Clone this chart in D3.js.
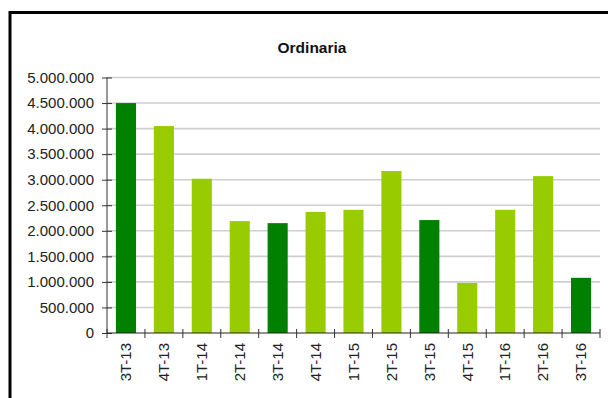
<!DOCTYPE html>
<html>
<head>
<meta charset="utf-8">
<script src="https://cdn.jsdelivr.net/npm/d3@7"></script>
<style>
  html, body { margin: 0; padding: 0; background: #fff; }
  svg { display: block; font-family: "Liberation Sans", Arial, sans-serif; }
</style>
</head>
<body>
<svg id="chart" width="608" height="398"></svg>
<script>
// Quarterly values
const categories = ["3T-13","4T-13","1T-14","2T-14","3T-14","4T-14","1T-15","2T-15","3T-15","4T-15","1T-16","2T-16","3T-16"];
const values = [4500000, 4050000, 3020000, 2190000, 2150000, 2370000, 2410000, 3170000, 2210000, 980000, 2410000, 3070000, 1080000];
const highlighted = ["3T-13","3T-14","3T-15","3T-16"];
const yTicks = [0, 500000, 1000000, 1500000, 2000000, 2500000, 3000000, 3500000, 4000000, 4500000, 5000000];
const title = "Ordinaria";

const svg = d3.select("#chart");
const plotLeft = 107, plotRight = 600, plotTop = 77.5, plotBottom = 333;

const fmt = d3.formatLocale({decimal: ",", thousands: ".", grouping: [3], currency: ["", "€"]}).format(",d");

const x = d3.scaleBand().domain(categories).range([plotLeft, plotRight]).paddingInner(0.47).paddingOuter(0.235);
const y = d3.scaleLinear().domain([0, 5000000]).range([plotBottom, plotTop]);

// Frame
svg.append("rect")
  .attr("x", 10).attr("y", 12.5).attr("width", 620).attr("height", 420)
  .attr("fill", "none").attr("stroke", "#000").attr("stroke-width", 3);

// Title
svg.append("text")
  .attr("x", 312).attr("y", 53)
  .attr("text-anchor", "middle")
  .attr("font-weight", "bold").attr("font-size", 15.5).attr("fill", "#111")
  .text(title);

// Gridlines
svg.append("g").selectAll("line").data(yTicks.filter(d => d > 0)).join("line")
  .attr("x1", plotLeft).attr("x2", plotRight)
  .attr("y1", d => y(d)).attr("y2", d => y(d))
  .attr("stroke", "#cfcfcf").attr("stroke-width", 1.6);

// Bars
svg.append("g").selectAll("rect").data(categories).join("rect")
  .attr("x", d => x(d))
  .attr("width", x.bandwidth())
  .attr("y", (d, i) => y(values[i]))
  .attr("height", (d, i) => y(0) - y(values[i]))
  .attr("fill", d => highlighted.includes(d) ? "#008000" : "#99cc00");

// Y axis
const yAxis = svg.append("g").attr("transform", `translate(${plotLeft},0)`)
  .call(d3.axisLeft(y).tickValues(yTicks).tickFormat(fmt).tickSize(5).tickPadding(8));
yAxis.select(".domain").attr("stroke", "#333").attr("d", `M0,${plotTop}V${plotBottom}`);
yAxis.selectAll(".tick line").attr("x1", -5).attr("x2", 5).attr("stroke", "#333");
yAxis.selectAll(".tick text").attr("font-size", 15).attr("fill", "#222")
  .attr("font-family", "Liberation Sans, Arial, sans-serif");

// X axis
const xAxis = svg.append("g").attr("transform", `translate(0,${plotBottom})`)
  .call(d3.axisBottom(x).tickSize(0).tickPadding(10));
xAxis.select(".domain").attr("stroke", "#222").attr("d", `M${plotLeft},0H${plotRight}`);
xAxis.selectAll(".tick text")
  .attr("font-size", 15).attr("fill", "#222")
  .attr("font-family", "Liberation Sans, Arial, sans-serif")
  .attr("text-anchor", "end")
  .attr("dy", "0.35em")
  .attr("transform", "translate(0,10) rotate(-90)")
  .attr("x", 0).attr("y", 0);

// Category boundary ticks
const step = x.step();
const bounds = d3.range(categories.length + 1).map(i => plotLeft + i * step);
xAxis.append("g").selectAll("line").data(bounds).join("line")
  .attr("x1", d => d).attr("x2", d => d)
  .attr("y1", -4).attr("y2", 5)
  .attr("stroke", "#333");
</script>
</body>
</html>
